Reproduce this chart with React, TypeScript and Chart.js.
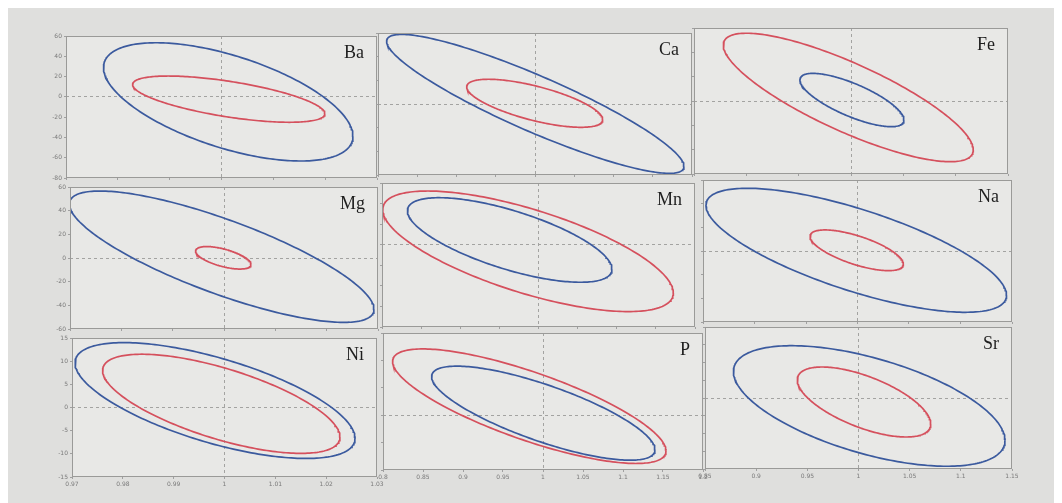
import React, { useEffect, useRef } from "react";
import { Chart, registerables } from "chart.js";

Chart.register(...registerables);

// ---------- data ----------
const elements = ["Ba", "Ca", "Fe", "Mg", "Mn", "Na", "Ni", "P", "Sr"];

const xMin = [0.97, 0.8, 0.85, 0.97, 0.8, 0.85, 0.97, 0.8, 0.85];
const xMax = [1.03, 1.2, 1.15, 1.03, 1.2, 1.15, 1.03, 1.2, 1.15];
const xStep = [0.01, 0.05, 0.05, 0.01, 0.05, 0.05, 0.01, 0.05, 0.05];
const yMin = [-80, -60, -60, -60, -80, -60, -15, -10, -20];
const yMax = [60, 60, 60, 60, 60, 60, 15, 15, 20];
const yStep = [20, 20, 20, 20, 20, 20, 5, 5, 5];

// blue confidence ellipses: centre, half-width, half-height, correlation
const blueCx = [1.0013, 1.0004, 1.0009, 0.99955, 0.9632, 0.9988, 0.99814, 1.0004, 1.0105];
const blueCy = [-4.96, 0.1, 0.8, 1.1, 4.6, 0.6, 1.5, 0.37, -2.25];
const blueHalfW = [0.02406, 0.1894, 0.0497, 0.02967, 0.1307, 0.1459, 0.02754, 0.1396, 0.1327];
const blueHalfH = [58.3, 58.7, 21.9, 55.5, 41.1, 52.4, 12.5, 8.58, 16.98];
const blueRho = [-0.58, -0.9, -0.75, -0.8, -0.69, -0.725, -0.65, -0.775, -0.57];

// red confidence ellipses
const redCx = [1.0014, 0.9996, 0.9974, 0.99986, 0.9866, 0.9992, 0.99937, 0.9829, 1.0054];
const redCy = [-2.26, 0.6, 2.9, 0.17, -6.4, 0.6, 0.8, 1.64, -1.13];
const redHalfW = [0.01855, 0.0866, 0.1194, 0.0054, 0.1857, 0.0453, 0.02335, 0.1709, 0.0652];
const redHalfH = [22.8, 20.3, 52.8, 9.5, 58.6, 17.2, 10.7, 10.45, 9.86];
const redRho = [-0.63, -0.68, -0.815, -0.6, -0.69, -0.68, -0.67, -0.78, -0.63];

// ---------- layout (page pixel frames of the plot areas: left, top, width, height) ----------
const frames = [
  [66, 36, 311, 142],
  [378, 33, 314, 142],
  [694, 28, 314, 146],
  [70, 187, 308, 142],
  [382, 183, 313, 144],
  [703, 180, 309, 142],
  [72, 338, 305, 139],
  [383, 333, 320, 137],
  [705, 327, 307, 142],
];

const PAD_L = 30;
const PAD_T = 6;
const PAD_R = 14;
const PAD_B = 14;

const BLUE = "#3b5a9e";
const RED = "#d5505d";
const PAGE_BG = "#dfdfdd";
const PANEL_BG = "#e8e8e6";

function ellipse(cx: number, cy: number, hw: number, hh: number, rho: number) {
  const pts: { x: number; y: number }[] = [];
  const s = Math.sqrt(1 - rho * rho);
  const n = 240;
  for (let k = 0; k <= n; k++) {
    const t = (2 * Math.PI * k) / n;
    pts.push({ x: cx + hw * Math.cos(t), y: cy + hh * (rho * Math.cos(t) + s * Math.sin(t)) });
  }
  return pts;
}

const fmt = (v: any) => String(Number(Number(v).toFixed(4)));

function panelPlugin(name: string) {
  return {
    id: "panelDeco",
    beforeDraw(chart: any) {
      const { ctx, chartArea: a } = chart;
      ctx.save();
      ctx.fillStyle = PANEL_BG;
      ctx.fillRect(a.left, a.top, a.right - a.left, a.bottom - a.top);
      ctx.restore();
    },
    afterDraw(chart: any) {
      const { ctx, chartArea: a } = chart;
      ctx.save();
      ctx.strokeStyle = "#9a9a98";
      ctx.lineWidth = 1;
      ctx.strokeRect(a.left + 0.5, a.top + 0.5, a.right - a.left - 1, a.bottom - a.top - 1);
      ctx.fillStyle = "#1e1e1e";
      ctx.font = '18px "Liberation Serif", "DejaVu Serif", serif';
      ctx.textAlign = "right";
      ctx.textBaseline = "alphabetic";
      ctx.fillText(name, a.right - 13, a.top + 22);
      ctx.restore();
    },
  };
}

function Panel({ i }: { i: number }) {
  const ref = useRef<HTMLCanvasElement | null>(null);
  const [L, T, W, H] = frames[i];
  const cw = W + PAD_L + PAD_R;
  const ch = H + PAD_T + PAD_B;
  const col = i % 3;
  const row = Math.floor(i / 3);

  useEffect(() => {
    if (!ref.current) return;
    const tickFont = { family: '"DejaVu Sans", sans-serif', size: 6 };
    const chart = new Chart(ref.current, {
      type: "scatter",
      data: {
        datasets: [
          {
            data: ellipse(blueCx[i], blueCy[i], blueHalfW[i], blueHalfH[i], blueRho[i]),
            showLine: true,
            borderColor: BLUE,
            borderWidth: 1.7,
            pointRadius: 0,
            fill: false,
          },
          {
            data: ellipse(redCx[i], redCy[i], redHalfW[i], redHalfH[i], redRho[i]),
            showLine: true,
            borderColor: RED,
            borderWidth: 1.7,
            pointRadius: 0,
            fill: false,
          },
        ],
      },
      options: {
        animation: false,
        responsive: false,
        devicePixelRatio: 1,
        events: [],
        layout: { padding: { left: 0, top: PAD_T, right: PAD_R, bottom: 0 } },
        plugins: { legend: { display: false }, tooltip: { enabled: false } },
        scales: {
          x: {
            type: "linear",
            min: xMin[i],
            max: xMax[i],
            afterFit: (s: any) => {
              s.height = PAD_B;
            },
            ticks: {
              display: row === 2,
              stepSize: xStep[i],
              callback: fmt,
              font: tickFont,
              color: "#7a7a7a",
              padding: 2,
              maxRotation: 0,
              autoSkip: false,
            },
            grid: {
              color: (c: any) =>
                c.tick && Math.abs(c.tick.value - 1) < 1e-6 ? "#a3a3a1" : "rgba(0,0,0,0)",
              drawTicks: true,
              tickLength: 2,
              tickColor: "#a0a0a0",
              lineWidth: 1,
            },
            border: { display: false, dash: [3, 3] },
          },
          y: {
            type: "linear",
            min: yMin[i],
            max: yMax[i],
            afterFit: (s: any) => {
              s.width = PAD_L;
            },
            ticks: {
              display: col === 0,
              stepSize: yStep[i],
              callback: fmt,
              font: tickFont,
              color: "#7a7a7a",
              padding: 2,
              autoSkip: false,
            },
            grid: {
              color: (c: any) =>
                c.tick && Math.abs(c.tick.value) < 1e-6 ? "#a3a3a1" : "rgba(0,0,0,0)",
              drawTicks: true,
              tickLength: 2,
              tickColor: "#a0a0a0",
              lineWidth: 1,
            },
            border: { display: false, dash: [3, 3] },
          },
        },
      } as any,
      plugins: [panelPlugin(elements[i]) as any],
    });
    return () => chart.destroy();
  }, [i]);

  return (
    <canvas
      ref={ref}
      width={cw}
      height={ch}
      style={{
        position: "absolute",
        left: L - 8 - PAD_L,
        top: T - 8 - PAD_T,
        width: cw,
        height: ch,
      }}
    />
  );
}

export default function App() {
  return (
    <div
      style={{
        position: "relative",
        width: 1054,
        height: 495,
        background: PAGE_BG,
        overflow: "hidden",
      }}
    >
      {elements.map((_, i) => (
        <Panel key={i} i={i} />
      ))}
    </div>
  );
}
